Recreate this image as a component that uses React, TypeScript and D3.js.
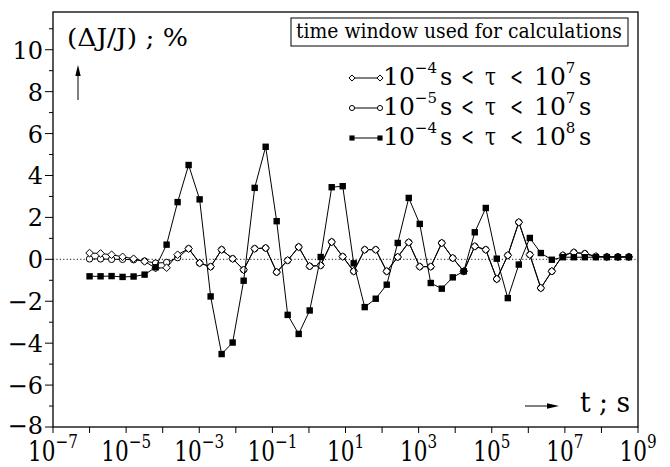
import React from "react";
import * as d3 from "d3";

// sampling times t (s)
const times = [
  1e-6, 2e-6, 4e-6, 8e-6, 1.6e-5, 3.2e-5, 6.4e-5, 1.28e-4, 2.56e-4, 5.12e-4,
  1.024e-3, 2.048e-3, 4.096e-3, 8.192e-3, 1.638e-2, 3.277e-2, 6.554e-2, 0.1311, 0.2621, 0.5243,
  1.049, 2.097, 4.194, 8.389, 16.78, 33.55, 67.11, 134.2, 268.4, 536.9,
  1074, 2147, 4295, 8590, 1.718e4, 3.436e4, 6.872e4, 1.374e5, 2.749e5, 5.498e5,
  1.1e6, 2.199e6, 4.398e6, 8.796e6, 1.759e7, 3.518e7, 7.037e7, 1.407e8, 2.815e8, 5.63e8,
];

// 10^-4 s < tau < 10^7 s (diamonds)
const seriesA = [
  0.3, 0.28, 0.22, 0.12, 0.03, -0.1, -0.42, -0.4, 0.22, 0.51,
  -0.18, -0.35, 0.46, 0.03, -0.5, 0.51, 0.54, -0.61, -0.05, 0.59,
  -0.33, -0.29, 0.83, 0.13, -0.57, 0.46, 0.46, -0.57, 0.11, 0.81,
  -0.35, -0.35, 0.78, 0.06, -0.57, 0.62, 0.46, -0.94, 0.19, 1.77,
  0.22, -1.37, -0.57, 0.19, 0.33, 0.27, 0.14, 0.12, 0.12, 0.12,
];

// 10^-5 s < tau < 10^7 s (open circles)
const seriesB = [
  0.02, 0.02, 0.0, 0.0, -0.02, -0.08, -0.18, -0.15, 0.08, 0.51,
  -0.18, -0.35, 0.46, 0.03, -0.5, 0.51, 0.54, -0.61, -0.05, 0.59,
  -0.33, -0.29, 0.83, 0.13, -0.57, 0.46, 0.46, -0.57, 0.11, 0.81,
  -0.35, -0.35, 0.78, 0.06, -0.57, 0.62, 0.46, -0.94, 0.19, 1.77,
  0.22, -1.37, -0.57, 0.19, 0.33, 0.27, 0.14, 0.12, 0.12, 0.12,
];

// 10^-4 s < tau < 10^8 s (filled squares)
const seriesC = [
  -0.81, -0.81, -0.8, -0.84, -0.82, -0.73, -0.38, 0.7, 2.73, 4.5,
  2.86, -1.77, -4.52, -3.97, -1.02, 3.41, 5.37, 1.82, -2.65, -3.56,
  -2.44, 0.11, 3.44, 3.49, -0.19, -2.28, -1.88, -1.21, 0.78, 2.93,
  1.69, -1.13, -1.4, -0.86, -0.57, 1.29, 2.45, 0.03, -1.85, -0.25,
  1.02, 0.3, -0.02, 0.1, 0.1, 0.1, 0.1, 0.1, 0.1, 0.1,
];

const xTickExps = [-7, -6, -5, -4, -3, -2, -1, 0, 1, 2, 3, 4, 5, 6, 7, 8, 9];
const xLabelExps = [-7, -5, -3, -1, 1, 3, 5, 7, 9];
const yTickValues = [-8, -6, -4, -2, 0, 2, 4, 6, 8, 10];
const yMinorValues = [-7, -5, -3, -1, 1, 3, 5, 7, 9, 11];

const legendItems = [
  { lo: "−4", hi: "7", marker: "diamond" },
  { lo: "−5", hi: "7", marker: "circle" },
  { lo: "−4", hi: "8", marker: "square" },
];

const FONT = "DejaVu Serif, Liberation Serif, serif";
const fs = (size: number) => ({ fontFamily: FONT, fontSize: size + "px" });

const L = 53, R = 638, T = 12, B = 427;

function Marker({ type, x, y, s = 1 }: { type: string; x: number; y: number; s?: number }) {
  if (type === "square") {
    const h = 3.2 * s;
    return <rect x={x - h} y={y - h} width={2 * h} height={2 * h} fill="#000" />;
  }
  if (type === "circle") {
    return <circle cx={x} cy={y} r={3.2 * s} fill="#fff" stroke="#000" strokeWidth={1} />;
  }
  const d = 3.8 * s;
  return (
    <path
      d={`M${x},${y - d}L${x + d},${y}L${x},${y + d}L${x - d},${y}Z`}
      fill="#fff"
      stroke="#000"
      strokeWidth={1}
    />
  );
}

function LegendLabel({ x, y, lo, hi }: { x: number; y: number; lo: string; hi: string }) {
  return (
    <g fill="#000">
      <text x={x} y={y} style={fs(25)}>
        10<tspan style={fs(15)} dy={-12}>{lo}</tspan>
      </text>
      <text x={x + 57} y={y} style={fs(24)}>s</text>
      <text x={x + 78} y={y} style={fs(25)} textLength={13} lengthAdjust="spacingAndGlyphs">&lt;</text>
      <text x={x + 102} y={y} style={fs(25)} textLength={11} lengthAdjust="spacingAndGlyphs">τ</text>
      <text x={x + 127} y={y} style={fs(25)} textLength={13} lengthAdjust="spacingAndGlyphs">&lt;</text>
      <text x={x + 151} y={y} style={fs(25)}>
        10<tspan style={fs(15)} dy={-12}>{hi}</tspan>
      </text>
      <text x={x + 196} y={y} style={fs(24)}>s</text>
    </g>
  );
}

export default function App() {
  const x = d3.scaleLog().domain([1e-7, 1e9]).range([L, R]);
  const y = d3.scaleLinear().domain([-8, 11.8]).range([B, T]);
  const line = d3
    .line<[number, number]>()
    .x((d) => x(d[0]))
    .y((d) => y(d[1]));

  const mk = (vals: number[]) => times.map((t, i) => [t, vals[i]] as [number, number]);
  const series = [
    { data: mk(seriesB), marker: "circle" },
    { data: mk(seriesA), marker: "diamond" },
    { data: mk(seriesC), marker: "square" },
  ];

  return (
    <svg
      width={670}
      height={467}
      style={{ position: "absolute", left: 0, top: 0, background: "#fff", fontFamily: FONT }}
    >
      <rect x={0} y={0} width={670} height={467} fill="#fff" />
      {/* zero line */}
      <line x1={L} x2={R} y1={y(0)} y2={y(0)} stroke="#000" strokeWidth={0.9} strokeDasharray="1.2,2.2" />

      {/* series */}
      {series.map((s, si) => (
        <g key={si}>
          <path d={line(s.data) || ""} fill="none" stroke="#000" strokeWidth={1} />
          {s.data.map((d, i) => (
            <Marker key={i} type={s.marker} x={x(d[0])} y={y(d[1])} />
          ))}
        </g>
      ))}

      {/* frame */}
      <rect x={L} y={T} width={R - L} height={B - T} fill="none" stroke="#000" strokeWidth={1.3} />

      {/* x ticks */}
      {xTickExps.map((e) => (
        <line key={e} x1={x(Math.pow(10, e))} x2={x(Math.pow(10, e))} y1={B} y2={B + 6} stroke="#000" strokeWidth={1} />
      ))}
      {xLabelExps.map((e) => {
        const cx = x(Math.pow(10, e));
        return (
          <g key={e} transform={`translate(${cx},${B + 34}) scale(0.8,1)`} fill="#000">
            <text x={0} y={0} textAnchor="middle" style={fs(27)}>
              10<tspan style={fs(19)} dy={-13}>{e < 0 ? "−" + Math.abs(e) : String(e)}</tspan>
            </text>
          </g>
        );
      })}

      {/* y ticks */}
      {yTickValues.map((v) => (
        <g key={v}>
          <line x1={L - 8} x2={L} y1={y(v)} y2={y(v)} stroke="#000" strokeWidth={1} />
          <text x={L - 10} y={y(v) + (v === -8 ? 7 : 9)} textAnchor="end" style={fs(24)} fill="#000">
            {v < 0 ? "−" + Math.abs(v) : String(v)}
          </text>
        </g>
      ))}
      {yMinorValues.map((v) => (
        <line key={v} x1={L - 4} x2={L} y1={y(v)} y2={y(v)} stroke="#000" strokeWidth={1} />
      ))}

      {/* y axis title */}
      <text x={67} y={46} style={fs(24)} fill="#000" textLength={121} lengthAdjust="spacingAndGlyphs">
        (ΔJ/J) ; %
      </text>
      <line x1={78} x2={78} y1={100} y2={74} stroke="#000" strokeWidth={1} />
      <path d="M78,65L75.3,76L80.7,76Z" fill="#000" />

      {/* x axis title */}
      <line x1={525} x2={550} y1={406} y2={406} stroke="#000" strokeWidth={1} />
      <path d="M559,406L547,403.2L547,408.8Z" fill="#000" />
      <text x={580} y={412} style={fs(27)} fill="#000" textLength={50} lengthAdjust="spacingAndGlyphs">
        t ; s
      </text>

      {/* legend box */}
      <rect x={291} y={18} width={337} height={28} fill="#fff" stroke="#000" strokeWidth={1} />
      <text x={296} y={38} style={fs(20)} fill="#000" textLength={326} lengthAdjust="spacingAndGlyphs">
        time window used for calculations
      </text>

      {legendItems.map((it, i) => {
        const cy = 78 + i * 30;
        return (
          <g key={i}>
            <line x1={352} x2={380} y1={cy} y2={cy} stroke="#000" strokeWidth={1} />
            <Marker type={it.marker} x={352} y={cy} s={0.8} />
            <Marker type={it.marker} x={380} y={cy} s={0.8} />
            <LegendLabel x={383} y={cy + 7} lo={it.lo} hi={it.hi} />
          </g>
        );
      })}
    </svg>
  );
}
